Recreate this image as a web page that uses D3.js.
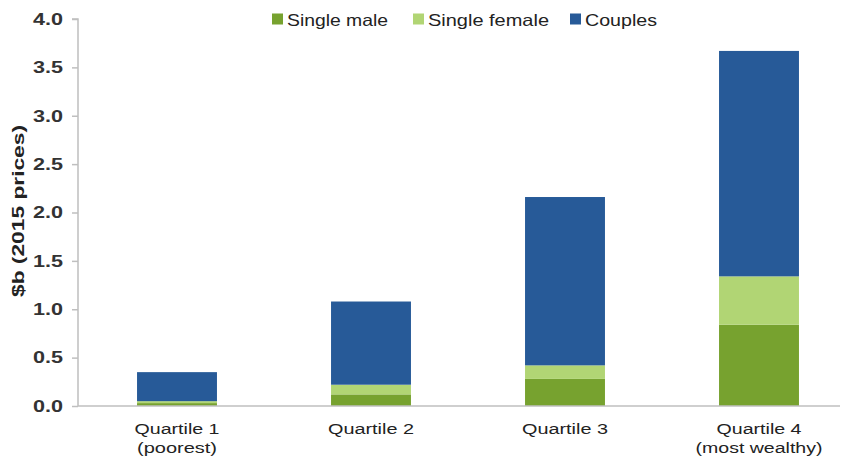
<!DOCTYPE html>
<html><head><meta charset="utf-8">
<script src="https://cdn.jsdelivr.net/npm/d3@7"></script>
<style>body{margin:0;background:#fff}svg{display:block}text{font-family:"Liberation Sans",Arial,sans-serif}</style>
</head><body>
<svg id="c" width="846" height="463"></svg>
<script>
const categories = [["Quartile 1","(poorest)"],["Quartile 2"],["Quartile 3"],["Quartile 4","(most wealthy)"]];
const seriesNames = ["Single male","Single female","Couples"];
const singleMale = [0.03, 0.12, 0.28, 0.84];
const singleFemale = [0.02, 0.10, 0.14, 0.50];
const couples = [0.30, 0.86, 1.74, 2.33];
const colors = ["#77a22f","#b1d574","#275a98"];
const yTicks = [0,0.5,1,1.5,2,2.5,3,3.5,4];

// widths of the stretched reference text
const xLabelLen = {"Quartile 1":85,"(poorest)":80,"Quartile 2":86,"Quartile 3":86,"Quartile 4":85,"(most wealthy)":127};
const legendLen = [101,121,72];

const svg = d3.select("#c");
const x0 = 78, yTop = 19, yBase = 406;
const x = d3.scaleBand().domain(d3.range(categories.length)).range([80, 856]).paddingInner(0.588).paddingOuter(0.294);
const y = d3.scaleLinear().domain([0,4]).range([yBase, yTop]);

const rows = categories.map((c,i)=>({i, m:singleMale[i], f:singleFemale[i], c:couples[i]}));
const stack = d3.stack().keys(["m","f","c"])(rows);

svg.append("g").selectAll("g").data(stack).join("g")
  .attr("fill",(d,k)=>colors[k])
  .selectAll("rect").data(d=>d).join("rect")
  .attr("x",d=>x(d.data.i)).attr("width",x.bandwidth())
  .attr("y",d=>y(d[1])).attr("height",d=>y(d[0])-y(d[1]));

// y axis
const ya = svg.append("g").attr("transform",`translate(${x0},0)`)
  .call(d3.axisLeft(y).tickValues(yTicks).tickFormat(d3.format(".1f")).tickSize(6).tickPadding(9));
ya.select(".domain").attr("stroke","#bfbfbf").attr("stroke-width",1.5).attr("d",`M-6,${yTop}H0V${yBase}`);
ya.selectAll(".tick line").attr("stroke","#bfbfbf").attr("stroke-width",1.5);
ya.selectAll("text").attr("font-size",16.5).attr("font-weight","bold").attr("fill","#333")
  .attr("textLength",30).attr("lengthAdjust","spacingAndGlyphs");

// baseline
svg.append("line").attr("x1",x0).attr("x2",840).attr("y1",yBase).attr("y2",yBase).attr("stroke","#bfbfbf").attr("stroke-width",1.5);

// x labels
const xl = svg.append("g").selectAll("text").data(categories).join("text")
  .attr("text-anchor","middle").attr("font-size",15.5).attr("fill","#222")
  .attr("transform",(d,i)=>`translate(${x(i)+x.bandwidth()/2},434)`);
xl.selectAll("tspan").data(d=>d).join("tspan").attr("x",0).attr("y",(d,j)=>j*19).text(d=>d)
  .attr("textLength",d=>xLabelLen[d]).attr("lengthAdjust","spacingAndGlyphs");

// y title
svg.append("text").attr("transform","translate(24,211) rotate(-90)").attr("text-anchor","middle")
  .attr("font-size",16).attr("font-weight","bold").attr("fill","#222")
  .attr("textLength",172).attr("lengthAdjust","spacingAndGlyphs").text("$b (2015 prices)");

// legend
const legX = [272, 413, 570];
const lg = svg.append("g").selectAll("g").data(seriesNames).join("g").attr("transform",(d,i)=>`translate(${legX[i]},0)`);
lg.append("rect").attr("x",0).attr("y",13.5).attr("width",11).attr("height",11).attr("fill",(d,i)=>colors[i]);
lg.append("text").attr("x",15).attr("y",25.5).attr("font-size",16.5).attr("fill","#222")
  .attr("textLength",(d,i)=>legendLen[i]).attr("lengthAdjust","spacingAndGlyphs").text(d=>d);
</script>
</body></html>
